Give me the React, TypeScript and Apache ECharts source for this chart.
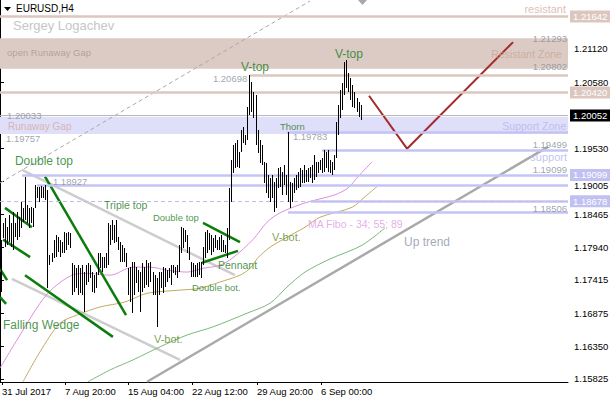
import React, { useEffect, useRef } from "react";
import * as echarts from "echarts";

// ---------- axes ----------
const X_MAX = 281.2; // bar units visible in the plot
const Y_MIN = 1.15776;
const Y_MAX = 1.21906;
const xTickPos = [1, 32.2, 63.4, 95, 127.2, 158.9];
const xTickLabels = ["31 Jul 2017", "7 Aug 20:00", "15 Aug 04:00", "22 Aug 12:00", "29 Aug 20:00", "6 Sep 00:00"];
const yTickValues = [1.2112, 1.2058, 1.1953, 1.19005, 1.18465, 1.1794, 1.17415, 1.16875, 1.1635, 1.15825];
const yTickPartlyHidden = [1.19005];

// ---------- H4 bars (high / low) ----------
const highs = [
  1.1806, 1.1833, 1.1841, 1.1826, 1.1846, 1.1833, 1.185, 1.1833, 1.185, 1.1842,
  1.1866, 1.1857, 1.1907, 1.1862, 1.1857, 1.1858, 1.1857, 1.1894, 1.1891, 1.1891,
  1.1892, 1.1891, 1.1894, 1.1886, 1.1781, 1.1785, 1.1806, 1.1814, 1.181, 1.1806,
  1.1802, 1.1818, 1.1817, 1.1818, 1.1817, 1.1769, 1.1765, 1.176, 1.1765, 1.176,
  1.1765, 1.1754, 1.1765, 1.1769, 1.1765, 1.1754, 1.1749, 1.1754, 1.1785, 1.1785,
  1.1778, 1.1778, 1.1785, 1.1833, 1.183, 1.1838, 1.183, 1.1838, 1.181, 1.1802,
  1.1797, 1.1793, 1.1785, 1.176, 1.1762, 1.177, 1.177, 1.1762, 1.1757, 1.1754,
  1.1769, 1.1762, 1.1773, 1.1769, 1.177, 1.1754, 1.1749, 1.1744, 1.1754, 1.1754,
  1.1762, 1.176, 1.1757, 1.176, 1.1765, 1.1765, 1.1762, 1.1765, 1.1797, 1.1826,
  1.1825, 1.1822, 1.1814, 1.1794, 1.177, 1.1769, 1.1765, 1.1769, 1.177, 1.177,
  1.1794, 1.1818, 1.1822, 1.1817, 1.1814, 1.1809, 1.1814, 1.1806, 1.181, 1.1814,
  1.1806, 1.1797, 1.1825, 1.1889, 1.1934, 1.1958, 1.1961, 1.1966, 1.1947, 1.1982,
  1.1987, 1.1974, 1.2019, 1.20698, 1.2059, 1.2043, 1.2038, 1.1982, 1.1966, 1.1958,
  1.1931, 1.1929, 1.191, 1.1905, 1.191, 1.1899, 1.1905, 1.1921, 1.1923, 1.1915,
  1.1926, 1.191, 1.19783, 1.1899, 1.1897, 1.1905, 1.191, 1.1915, 1.1921, 1.1918,
  1.1926, 1.1918, 1.1921, 1.1923, 1.1926, 1.1942, 1.1931, 1.1931, 1.1934, 1.1937,
  1.195, 1.1947, 1.195, 1.1934, 1.1931, 1.1942, 1.1995, 1.2022, 1.2046, 1.2057,
  1.2091, 1.2094, 1.2073, 1.2065, 1.2054, 1.2043, 1.2033, 1.2027, 1.2022,
];
const lows = [
  1.1722, 1.1809, 1.1794, 1.1797, 1.1802, 1.1794, 1.1789, 1.181, 1.1806, 1.181,
  1.1825, 1.1834, 1.1838, 1.1833, 1.1825, 1.1833, 1.1826, 1.1857, 1.1873, 1.1866,
  1.1873, 1.1873, 1.187, 1.1728, 1.1765, 1.177, 1.1777, 1.1778, 1.1786, 1.1778,
  1.1785, 1.1785, 1.1789, 1.1797, 1.1793, 1.1717, 1.1722, 1.1728, 1.1717, 1.172,
  1.1717, 1.169, 1.1733, 1.1738, 1.1744, 1.1722, 1.172, 1.1728, 1.1749, 1.176,
  1.1754, 1.176, 1.176, 1.1765, 1.1797, 1.1806, 1.1801, 1.1802, 1.1789, 1.177,
  1.177, 1.177, 1.1762, 1.1717, 1.1706, 1.1688, 1.1717, 1.1736, 1.1722, 1.169,
  1.1722, 1.1728, 1.1733, 1.173, 1.1738, 1.1717, 1.1717, 1.1666, 1.1717, 1.1728,
  1.172, 1.173, 1.1738, 1.1744, 1.1733, 1.1752, 1.1749, 1.1744, 1.1754, 1.1785,
  1.1793, 1.1802, 1.1785, 1.1773, 1.1746, 1.1746, 1.1746, 1.1746, 1.1749, 1.1744,
  1.1765, 1.1777, 1.1785, 1.1789, 1.1781, 1.1786, 1.1793, 1.1789, 1.1789, 1.1786,
  1.1786, 1.1785, 1.1777, 1.1806, 1.1866, 1.1913, 1.1921, 1.1923, 1.1921, 1.1947,
  1.1961, 1.1958, 1.1966, 1.2006, 1.2011, 1.2001, 1.1958, 1.1945, 1.1929, 1.1926,
  1.1897, 1.1881, 1.1873, 1.1866, 1.1873, 1.185, 1.1857, 1.1889, 1.1891, 1.1878,
  1.1894, 1.1878, 1.1866, 1.1857, 1.1866, 1.1881, 1.1886, 1.1889, 1.1891, 1.1897,
  1.1897, 1.1899, 1.1899, 1.1905, 1.1897, 1.1902, 1.1907, 1.1913, 1.1918, 1.1913,
  1.1915, 1.1921, 1.1915, 1.1913, 1.191, 1.1918, 1.1937, 1.1974, 1.2001, 1.2014,
  1.2038, 1.2049, 1.2043, 1.203, 1.2019, 1.2017, 1.2011, 1.2003, 1.1998,
];

// ---------- moving averages "MA Fibo - 34; 55; 89" (bar, price) ----------
const ma34 = [
  [0, 1.16], [9.9, 1.1653], [19.8, 1.1704], [26.2, 1.1728], [35.6, 1.1749], [43.6, 1.1752],
  [54.5, 1.1749], [65.8, 1.1762], [74.3, 1.1762], [82.7, 1.1757], [92.6, 1.1754], [100.5, 1.176],
  [108.9, 1.1765], [115.3, 1.1777], [125.2, 1.1806], [132.2, 1.1834], [138.6, 1.1849], [151, 1.1865],
  [165.8, 1.1878], [172.3, 1.1889], [177.2, 1.1907], [184.2, 1.1931],
];
const ma55 = [
  [11.4, 1.1578], [19.8, 1.1626], [29.7, 1.1672], [38.1, 1.1685], [49.5, 1.1698], [61.9, 1.1706],
  [72.8, 1.172], [89.1, 1.1725], [99, 1.1728], [108.9, 1.1738], [118.8, 1.1749], [123.8, 1.176],
  [127.7, 1.1777], [133.7, 1.1794], [142.1, 1.181], [151, 1.1826], [158.4, 1.1842], [174.3, 1.1858],
  [180.7, 1.1875], [186.6, 1.1891],
];
const ma89 = [
  [43.6, 1.1578], [54.5, 1.1597], [65.8, 1.1613], [79.2, 1.1634], [92.6, 1.1653], [105.4, 1.1666],
  [122.3, 1.1688], [133.7, 1.1704], [142.1, 1.173], [151, 1.1754], [163.4, 1.1775], [179.2, 1.1797],
  [190.6, 1.1825],
];

// ---------- levels & zones ----------
const resistZone = [1.21293, 1.20802];
const supportZone = [1.20033, 1.19757];
const currentPrice = 1.20052;
const resistLevels = [
  { v: 1.21642, from: 0, box: true },
  { v: 1.20698, from: 123.5, box: false },
  { v: 1.2042, from: 0, box: true },
];
const supportLevels = [
  { v: 1.19783, from: 142, box: false },
  { v: 1.19499, from: 159.4, box: false },
  { v: 1.19099, from: 10.9, box: true },
  { v: 1.18927, from: 18.3, box: false },
  { v: 1.18678, from: 154, box: true },
  { v: 1.18506, from: 142.6, box: false },
];
const dashedLevels = [1.18678];

// ---------- drawn trend lines (bar, price) ----------
const trendLines = [
  { kind: "dash", pts: [[0, 1.1897], [153.5, 1.2189]] },
  { kind: "channel", pts: [[10.9, 1.1918], [116.3, 1.1749]] },
  { kind: "channel", pts: [[5.9, 1.1743], [89.1, 1.1613]] },
  { kind: "up", pts: [[72.8, 1.1578], [271.3, 1.1955]] },
  { kind: "green", pts: [[2.5, 1.1857], [15.8, 1.1826]] },
  { kind: "green", pts: [[1.5, 1.1806], [14.9, 1.1778]] },
  { kind: "green", pts: [[22.3, 1.1907], [62.4, 1.1685]] },
  { kind: "green", pts: [[12.4, 1.1749], [55.9, 1.165]] },
  { kind: "green", pts: [[0, 1.1759], [3.5, 1.1741]] },
  { kind: "green", pts: [[0, 1.1714], [3, 1.1703]] },
  { kind: "green", pts: [[100.5, 1.1833], [118.8, 1.1802]] },
  { kind: "green", pts: [[100, 1.1769], [117.8, 1.1788]] },
  { kind: "forecast", pts: [[182.7, 1.2037], [201.5, 1.1952], [254, 1.2123]] },
];

const GREEN = "#187a20";
const OLIVE = "#5a8a1e";
const GRAY = "#878d99";
const LAV = "#b4b4f0";

const notes = [
  { t: "open Runaway Gap", u: 3.5, p: 1.2106, a: "l", c: "#a69890", s: 9.5 },
  { t: "resistant", u: 280.2, p: 1.2176, a: "r", c: "#cfb1a5", s: 11 },
  { t: "1.21293", u: 280.7, p: 1.2129, a: "r", c: GRAY, s: 9.5 },
  { t: "Resistant Zone", u: 278.2, p: 1.2104, a: "r", c: "#c9a595", s: 10.5 },
  { t: "1.20802", u: 280.7, p: 1.2084, a: "r", c: GRAY, s: 9.5 },
  { t: "V-top", u: 165.8, p: 1.2104, a: "l", c: GREEN, s: 12 },
  { t: "V-top", u: 119.3, p: 1.2083, a: "l", c: GREEN, s: 12 },
  { t: "1.20698", u: 105.4, p: 1.2065, a: "l", c: GRAY, s: 9.5 },
  { t: "1.20033", u: 3.5, p: 1.2005, a: "l", c: GRAY, s: 9.5 },
  { t: "Runaway Gap", u: 4, p: 1.1988, a: "l", c: "#d8a89f", s: 10 },
  { t: "Support Zone", u: 280.2, p: 1.1989, a: "r", c: LAV, s: 10.5 },
  { t: "1.19757", u: 3, p: 1.1969, a: "l", c: GRAY, s: 9.5 },
  { t: "Thorn", u: 138.6, p: 1.1988, a: "l", c: GREEN, s: 9.5 },
  { t: "1.19783", u: 145, p: 1.1971, a: "l", c: GRAY, s: 9.5 },
  { t: "1.19499", u: 280.7, p: 1.1958, a: "r", c: GRAY, s: 9.5 },
  { t: "support", u: 280.7, p: 1.1938, a: "r", c: LAV, s: 11 },
  { t: "Double top", u: 7.4, p: 1.1932, a: "l", c: GREEN, s: 12 },
  { t: "1.19099", u: 280.7, p: 1.1918, a: "r", c: GRAY, s: 9.5 },
  { t: "1.18927", u: 26.2, p: 1.19, a: "l", c: GRAY, s: 9.5 },
  { t: "Triple top", u: 51.5, p: 1.1862, a: "l", c: GREEN, s: 10.5 },
  { t: "1.18506", u: 280.7, p: 1.1856, a: "r", c: GRAY, s: 9.5 },
  { t: "Double top", u: 75.7, p: 1.1841, a: "l", c: GREEN, s: 9.5 },
  { t: "MA Fibo - 34; 55; 89", u: 152.5, p: 1.1831, a: "l", c: "#e09ae0", s: 10.5 },
  { t: "V-bot.", u: 134.7, p: 1.181, a: "l", c: OLIVE, s: 11 },
  { t: "Up trend", u: 200, p: 1.1802, a: "l", c: "#8a93a6", s: 12 },
  { t: "Pennant", u: 107.9, p: 1.1765, a: "l", c: GREEN, s: 10.5 },
  { t: "Double bot.", u: 95, p: 1.173, a: "l", c: GREEN, s: 9.5 },
  { t: "Falling Wedge", u: 1.5, p: 1.1669, a: "l", c: GREEN, s: 12 },
  { t: "V-bot.", u: 76.2, p: 1.1647, a: "l", c: OLIVE, s: 11 },
];

const FONT = "Liberation Sans, Arial, sans-serif";
const RES_COLOR = "#dcc7bf";
const SUP_COLOR = "#c4c4f4";

const trendStyle: Record<string, any> = {
  dash: { color: "#a9a9a9", width: 1, type: [4, 3] },
  channel: { color: "#cdcdcd", width: 2.5, type: "solid" },
  up: { color: "#a9a9a9", width: 2.5, type: "solid" },
  green: { color: "#0b7d0b", width: 2.5, type: "solid" },
  forecast: { color: "#a52a2a", width: 2, type: "solid" },
};

function boxLabel(bg: string) {
  return {
    show: true,
    position: "end",
    distance: 2,
    formatter: (p: any) => Number(p.value).toFixed(5),
    backgroundColor: bg,
    color: "#ffffff",
    padding: [1, 3, 0, 3],
    lineHeight: 11,
    fontSize: 9.5,
    fontFamily: FONT,
  };
}

export default function App() {
  const ref = useRef<HTMLDivElement>(null);
  useEffect(() => {
    document.body.style.margin = "0";
    if (!ref.current) return;
    const chart = echarts.init(ref.current, undefined, { renderer: "svg" });

    const levelLines: any[] = [];
    resistLevels.forEach((l) => {
      levelLines.push({
        lineStyle: { color: RES_COLOR, width: 2.5, type: "solid" },
        label: l.box ? boxLabel(RES_COLOR) : { show: false },
        value: l.v,
        coords: [[l.from, l.v], [X_MAX, l.v]],
      });
    });
    supportLevels.forEach((l) => {
      levelLines.push({
        lineStyle: { color: SUP_COLOR, width: 2.5, type: "solid" },
        label: l.box ? boxLabel("#c0c0f2") : { show: false },
        value: l.v,
        coords: [[l.from, l.v], [X_MAX, l.v]],
      });
    });
    dashedLevels.forEach((v) => {
      levelLines.push({
        lineStyle: { color: "#c6b8ee", width: 1, type: [4, 3] },
        label: { show: false },
        value: v,
        coords: [[0, v], [X_MAX, v]],
      });
    });
    levelLines.push({
      lineStyle: { color: "#b9b9b9", width: 1, type: "solid" },
      label: boxLabel("#000000"),
      value: currentPrice,
      coords: [[0, currentPrice], [X_MAX, currentPrice]],
    });

    const series: any[] = [
      {
        name: "zones",
        type: "line",
        data: [],
        silent: true,
        z: 1,
        markArea: {
          silent: true,
          data: [
            [{ yAxis: resistZone[0], itemStyle: { color: "#dccbc4" } }, { yAxis: resistZone[1] }],
            [{ yAxis: supportZone[0], itemStyle: { color: "#dfdffa" } }, { yAxis: supportZone[1] }],
          ],
        },
      },
      {
        name: "levels",
        type: "line",
        data: [],
        silent: true,
        z: 2,
        markLine: {
          silent: true,
          symbol: ["none", "none"],
          animation: false,
          data: levelLines.map((l) => [
            { coord: l.coords[0], value: l.value, lineStyle: l.lineStyle, label: l.label },
            { coord: l.coords[1] },
          ]),
        },
      },
    ];

    trendLines.forEach((t) => {
      const st = trendStyle[t.kind];
      series.push({
        type: "line",
        data: t.pts,
        symbol: "none",
        silent: true,
        z: t.kind === "dash" || t.kind === "channel" ? 2 : 4,
        lineStyle: { color: st.color, width: st.width, type: st.type },
      });
    });

    [
      { d: ma34, c: "#dd8fdd" },
      { d: ma55, c: "#c2ab5e" },
      { d: ma89, c: "#7cb87c" },
    ].forEach((m) => {
      series.push({
        type: "line",
        data: m.d,
        symbol: "none",
        smooth: 0.3,
        silent: true,
        z: 3,
        lineStyle: { color: m.c, width: 1 },
      });
    });

    series.push({
      name: "EURUSD",
      type: "custom",
      silent: true,
      z: 5,
      data: highs.map((h, i) => [i + 0.5, h, lows[i]]),
      renderItem: (params: any, api: any) => {
        const top = api.coord([api.value(0), api.value(1)]);
        const bot = api.coord([api.value(0), api.value(2)]);
        const x = Math.round(top[0]) + 0.5;
        return {
          type: "line",
          shape: { x1: x, y1: Math.round(top[1]), x2: x, y2: Math.round(bot[1]) },
          style: { stroke: "#000000", lineWidth: 1 },
        };
      },
    });

    series.push({
      type: "scatter",
      silent: true,
      z: 6,
      symbolSize: 0,
      itemStyle: { color: "rgba(0,0,0,0)" },
      data: notes.map((n) => ({
        value: [n.u, n.p],
        label: {
          show: true,
          formatter: n.t,
          position: n.a === "l" ? "right" : "left",
          distance: 0,
          color: n.c,
          fontSize: n.s,
          fontFamily: FONT,
        },
      })),
    });

    const option: any = {
      animation: false,
      backgroundColor: "#ffffff",
      grid: { left: 0, right: 42, top: 0, bottom: 18, containLabel: false, outerBoundsMode: "none" },
      xAxis: {
        type: "value",
        min: 0,
        max: X_MAX,
        splitLine: { show: false },
        axisLine: { show: true, lineStyle: { color: "#000000", width: 1 } },
        axisTick: { show: true, length: 3, customValues: xTickPos, lineStyle: { color: "#000" } },
        axisLabel: {
          show: true,
          customValues: xTickPos,
          align: "left",
          margin: 4,
          color: "#000000",
          fontSize: 9.5,
          fontFamily: FONT,
          formatter: (v: number) => {
            let best = 0;
            xTickPos.forEach((p, i) => {
              if (Math.abs(p - v) < Math.abs(xTickPos[best] - v)) best = i;
            });
            return xTickLabels[best];
          },
        },
      },
      yAxis: {
        type: "value",
        position: "right",
        min: Y_MIN,
        max: Y_MAX,
        scale: true,
        splitLine: { show: false },
        axisLine: { show: true, lineStyle: { color: "#000000", width: 1 } },
        axisTick: { show: true, length: 4, customValues: yTickValues, lineStyle: { color: "#000" } },
        axisLabel: {
          show: true,
          customValues: yTickValues,
          margin: 6,
          color: "#000000",
          fontSize: 9.5,
          fontFamily: FONT,
          formatter: (v: number) => {
            const s = v.toFixed(5);
            return yTickPartlyHidden.some((h) => Math.abs(h - v) < 1e-7) ? "{low|" + s + "}" : s;
          },
          rich: {
            low: { padding: [9, 0, 0, 0], fontSize: 9.5, fontFamily: FONT, color: "#000000" },
          },
        },
      },
      graphic: [
        { type: "polygon", shape: { points: [[4, 7], [11, 7], [7.5, 11]] }, style: { fill: "#000" } },
        { type: "text", left: 16, top: 3, style: { text: "EURUSD,H4", fill: "#000", fontSize: 10, fontFamily: FONT } },
        { type: "text", left: 13, top: 19, style: { text: "Sergey Logachev", fill: "#c6c6c6", fontSize: 13, fontFamily: FONT } },
        { type: "polygon", shape: { points: [[358, 0], [367, 0], [362.5, 5]] }, style: { fill: "#a8a8a8" } },
      ],
      series,
    };
    chart.setOption(option);
    return () => chart.dispose();
  }, []);
  return <div ref={ref} style={{ width: 610, height: 400 }} />;
}
